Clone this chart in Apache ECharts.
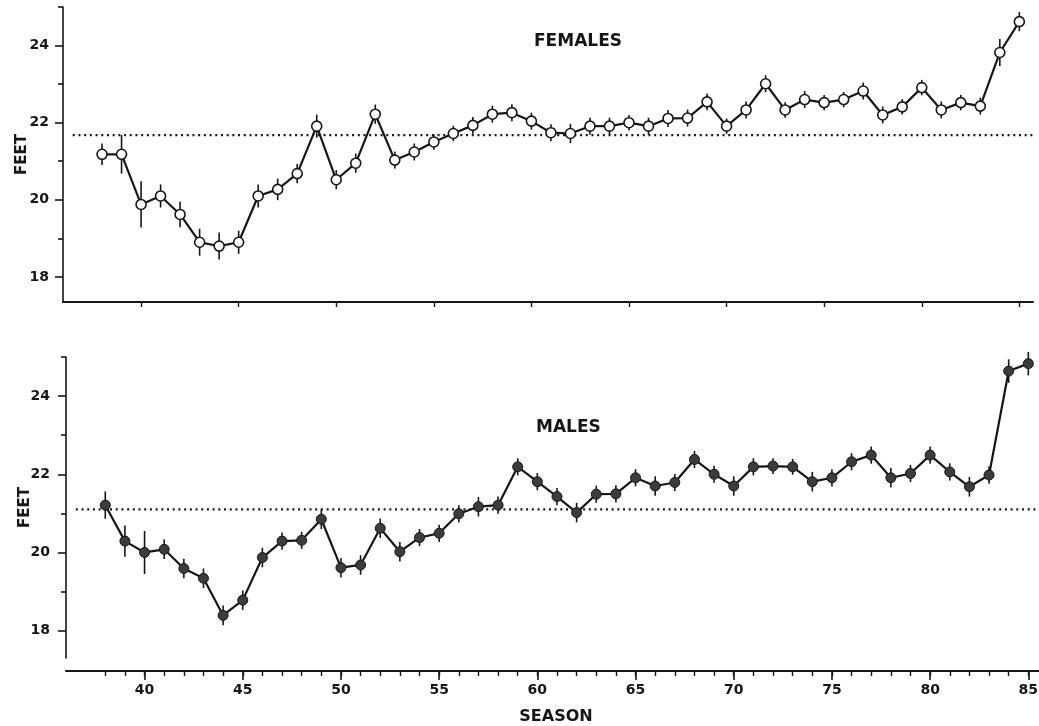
<!DOCTYPE html>
<html>
<head>
<meta charset="utf-8">
<script src="https://cdn.jsdelivr.net/npm/echarts@6/dist/echarts.min.js"></script>
<style>
  html, body { margin: 0; padding: 0; background: #fff; }
  #chart { width: 1039px; height: 726px; }
</style>
</head>
<body>
<div id="chart"></div>
<script>
// Seasons (x) shared by both panels
const seasons = [38, 39, 40, 41, 42, 43, 44, 45, 46, 47, 48, 49, 50, 51, 52, 53, 54, 55, 56, 57, 58, 59, 60, 61,
                 62, 63, 64, 65, 66, 67, 68, 69, 70, 71, 72, 73, 74, 75, 76, 77, 78, 79, 80, 81, 82, 83, 84, 85];

// Mean length (feet) per season, with half-length of the vertical bar
const femaleFeet = [21.18, 21.18, 19.88, 20.10, 19.62, 18.90, 18.80, 18.90, 20.10, 20.27, 20.68, 21.91,
                    20.52, 20.95, 22.22, 21.03, 21.24, 21.50, 21.72, 21.93, 22.22, 22.26, 22.04, 21.74,
                    21.72, 21.91, 21.91, 22.00, 21.91, 22.11, 22.12, 22.54, 21.91, 22.33, 23.01, 22.33,
                    22.60, 22.52, 22.60, 22.82, 22.20, 22.41, 22.91, 22.33, 22.52, 22.43, 23.82, 24.62];
const femaleErr  = [0.28, 0.50, 0.60, 0.30, 0.33, 0.35, 0.35, 0.30, 0.30, 0.28, 0.25, 0.30,
                    0.25, 0.25, 0.25, 0.22, 0.22, 0.20, 0.20, 0.22, 0.22, 0.22, 0.22, 0.22,
                    0.25, 0.22, 0.22, 0.20, 0.22, 0.22, 0.22, 0.22, 0.20, 0.22, 0.22, 0.20,
                    0.22, 0.20, 0.20, 0.22, 0.22, 0.20, 0.20, 0.22, 0.20, 0.22, 0.35, 0.25];

const maleFeet = [21.21, 20.29, 20.00, 20.08, 19.59, 19.34, 18.39, 18.78, 19.87, 20.29, 20.31, 20.85,
                  19.61, 19.68, 20.62, 20.02, 20.38, 20.49, 20.99, 21.17, 21.21, 22.19, 21.81, 21.43,
                  21.02, 21.49, 21.50, 21.91, 21.70, 21.79, 22.38, 22.00, 21.70, 22.19, 22.21, 22.19,
                  21.81, 21.91, 22.32, 22.49, 21.91, 22.02, 22.49, 22.06, 21.68, 21.98, 24.64, 24.83];
const maleErr  = [0.35, 0.40, 0.55, 0.25, 0.25, 0.25, 0.25, 0.25, 0.25, 0.22, 0.22, 0.25,
                  0.25, 0.25, 0.25, 0.25, 0.22, 0.22, 0.22, 0.25, 0.22, 0.22, 0.22, 0.22,
                  0.25, 0.22, 0.22, 0.22, 0.25, 0.22, 0.22, 0.22, 0.25, 0.22, 0.20, 0.20,
                  0.25, 0.22, 0.22, 0.22, 0.25, 0.22, 0.22, 0.22, 0.25, 0.22, 0.30, 0.30];

// Overall means drawn as dotted reference lines, and their season span
const femaleMean = 21.68;
const maleMean = 21.10;
const meanSpan = [36.5, 85.9];

// Tick positions
const feetLabelTicks = [18, 20, 22, 24];
const feetMinorTicks = [19, 21, 23, 25];
const seasonLabelTicks = [40, 45, 50, 55, 60, 65, 70, 75, 80, 85];
const seasonMinorTicks = [38, 39, 40, 41, 42, 43, 44, 45, 46, 47, 48, 49, 50, 51, 52, 53, 54, 55, 56, 57, 58, 59, 60, 61,
                          62, 63, 64, 65, 66, 67, 68, 69, 70, 71, 72, 73, 74, 75, 76, 77, 78, 79, 80, 81, 82, 83, 84, 85];

const INK = '#161616';
const FONT = 'DejaVu Sans';

function pairs(xs, ys) { return xs.map((x, i) => [x, ys[i]]); }
function triples(xs, ys, es) { return xs.map((x, i) => [x, ys[i], es[i]]); }

function errorBars(xIdx, yIdx, data) {
  return {
    type: 'custom', xAxisIndex: xIdx, yAxisIndex: yIdx, z: 1,
    data: data,
    encode: { x: 0, y: 1 },
    renderItem: function (params, api) {
      const x = api.value(0), y = api.value(1), e = api.value(2);
      const a = api.coord([x, y - e]);
      const b = api.coord([x, y + e]);
      return { type: 'line', shape: { x1: a[0], y1: a[1], x2: b[0], y2: b[1] },
               style: { stroke: INK, lineWidth: 1.6 } };
    },
    silent: true
  };
}

function meanLine(xIdx, yIdx, v) {
  return {
    type: 'line', xAxisIndex: xIdx, yAxisIndex: yIdx, z: 0,
    data: [[meanSpan[0], v], [meanSpan[1], v]],
    symbol: 'none', silent: true,
    lineStyle: { color: INK, width: 2.2, type: [2, 3.7], cap: 'butt' }
  };
}

const labelStyle = { color: INK, fontFamily: FONT, fontWeight: 'bold', fontSize: 14 };

function feetAxes(gridIndex, min, margin) {
  return [
    {
      type: 'value', gridIndex: gridIndex, position: 'left', min: min, max: 25,
      name: 'FEET', nameLocation: 'middle', nameRotate: 90, nameGap: 33, nameMoveOverlap: false,
      nameTextStyle: { color: INK, fontFamily: FONT, fontWeight: 'bold', fontSize: 15 },
      axisLine: { show: true, lineStyle: { color: INK, width: 1.6 } },
      axisTick: { show: true, inside: false, length: 8, customValues: feetLabelTicks,
                  lineStyle: { color: INK, width: 1.6 } },
      axisLabel: Object.assign({ customValues: feetLabelTicks, margin: margin }, labelStyle),
      splitLine: { show: false }
    },
    {
      type: 'value', gridIndex: gridIndex, position: 'left', min: min, max: 25,
      axisLine: { show: false },
      axisTick: { show: true, inside: false, length: 5, customValues: feetMinorTicks,
                  lineStyle: { color: INK, width: 1.6 } },
      axisLabel: { show: false },
      splitLine: { show: false }
    }
  ];
}

const option = {
  backgroundColor: '#ffffff',
  animation: false,
  grid: [
    { left: 63, top: 7, width: 970, height: 295, containLabel: false, outerBoundsMode: 'none' },
    { left: 66, top: 357, width: 980, height: 301, containLabel: false, outerBoundsMode: 'none' }
  ],
  xAxis: [
    {
      type: 'value', gridIndex: 0, min: 36, max: 85.7, position: 'bottom',
      axisLine: { show: true, onZero: false, lineStyle: { color: INK, width: 2.2 } },
      axisTick: { show: true, inside: false, length: 5, customValues: seasonLabelTicks,
                  lineStyle: { color: INK, width: 1.4 } },
      axisLabel: { show: false },
      splitLine: { show: false }
    },
    {
      type: 'value', gridIndex: 1, min: 36, max: 85.9, position: 'bottom', offset: 13,
      name: 'SEASON', nameLocation: 'middle', nameGap: 38,
      nameTextStyle: { color: INK, fontFamily: FONT, fontWeight: 'bold', fontSize: 16 },
      axisLine: { show: true, onZero: false, lineStyle: { color: INK, width: 2.2 } },
      axisTick: { show: true, inside: false, length: 9, customValues: seasonLabelTicks,
                  lineStyle: { color: INK, width: 1.6 } },
      axisLabel: Object.assign({ customValues: seasonLabelTicks, margin: 12 }, labelStyle),
      splitLine: { show: false }
    },
    {
      type: 'value', gridIndex: 1, min: 36, max: 85.9, position: 'bottom', offset: 13,
      axisLine: { show: false, onZero: false },
      axisTick: { show: true, inside: false, length: 5, customValues: seasonMinorTicks,
                  lineStyle: { color: INK, width: 1.4 } },
      axisLabel: { show: false },
      splitLine: { show: false }
    }
  ],
  yAxis: [].concat(feetAxes(0, 17.35, 14), feetAxes(1, 17.3, 16)),
  graphic: [
    { type: 'text', left: 534, top: 33,
      style: { text: 'FEMALES', fill: INK, font: 'bold 17px "DejaVu Sans"' } },
    { type: 'text', left: 536, top: 419,
      style: { text: 'MALES', fill: INK, font: 'bold 17px "DejaVu Sans"' } }
  ],
  series: [
    meanLine(0, 0, femaleMean),
    errorBars(0, 0, triples(seasons, femaleFeet, femaleErr)),
    {
      name: 'Females', type: 'line', xAxisIndex: 0, yAxisIndex: 0, z: 3,
      data: pairs(seasons, femaleFeet),
      symbol: 'circle', symbolSize: 10, showSymbol: true,
      lineStyle: { color: INK, width: 2.2 },
      itemStyle: { color: '#ffffff', borderColor: INK, borderWidth: 1.6 }
    },
    meanLine(1, 2, maleMean),
    errorBars(1, 2, triples(seasons, maleFeet, maleErr)),
    {
      name: 'Males', type: 'line', xAxisIndex: 1, yAxisIndex: 2, z: 3,
      data: pairs(seasons, maleFeet),
      symbol: 'circle', symbolSize: 10, showSymbol: true,
      lineStyle: { color: INK, width: 2.2 },
      itemStyle: { color: '#3c3c3c', borderColor: INK, borderWidth: 1 }
    }
  ]
};

const chart = echarts.init(document.getElementById('chart'), null, { renderer: 'canvas' });
chart.setOption(option);
</script>
</body>
</html>
